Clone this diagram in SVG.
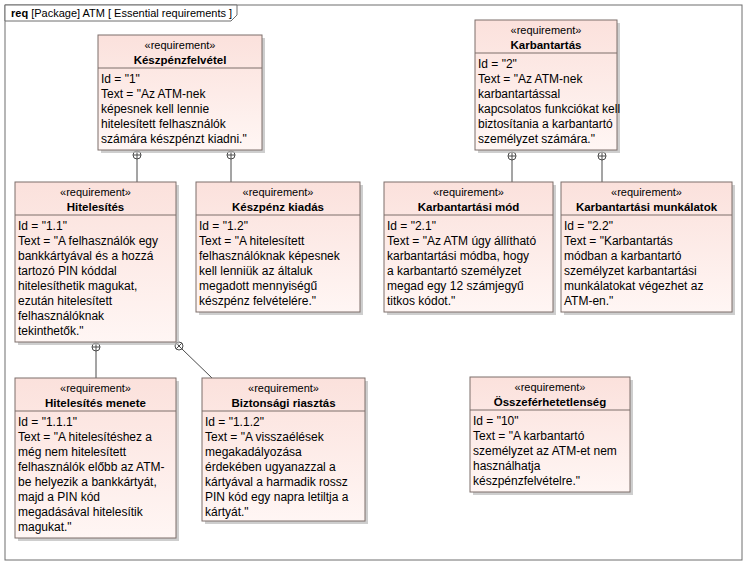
<svg xmlns="http://www.w3.org/2000/svg" width="747" height="565" viewBox="0 0 747 565">
<style>
.frame{fill:#ffffff;stroke:#6e6e6e;stroke-width:1}
.box{fill:url(#reqfill);stroke:#7d6e6b;stroke-width:1}
.shadow{fill:#b9b9b9;opacity:0.7}
.div{stroke:#7d6e6b;stroke-width:1}
.st{font-family:"Liberation Sans",Arial,sans-serif;font-size:11px;fill:#000;text-anchor:middle}
.nm{font-family:"Liberation Sans",Arial,sans-serif;font-size:11.5px;font-weight:bold;fill:#000;text-anchor:middle}
.tx{font-family:"Liberation Sans",Arial,sans-serif;font-size:12px;fill:#000}
.ttl{font-family:"Liberation Sans",Arial,sans-serif;font-size:11px;fill:#000}
.con{stroke:#4a4a4a;stroke-width:1;fill:none}
.cc{stroke:#4a4a4a;stroke-width:1;fill:#ffffff}
</style>
<defs>
<linearGradient id="reqfill" x1="0" y1="0" x2="0" y2="1">
<stop offset="0" stop-color="#fbe1dc"/>
<stop offset="1" stop-color="#fff6f4"/>
</linearGradient>
</defs>
<g id="frame">
<rect class="frame" x="5" y="5" width="737" height="555"/>
<path class="frame" d="M5,5 H237 V15 L231,21 H5 Z"/>
<text class="ttl" x="11" y="17"><tspan font-weight="bold">req</tspan> [Package] ATM [ Essential requirements ]</text>
</g>
<g id="connectors">
<line class="con" x1="137" y1="159" x2="137" y2="182"/>
<circle class="cc" cx="137" cy="155" r="4"/><path class="con" d="M133,155 H141 M137,151 V159"/>
<line class="con" x1="231" y1="159" x2="231" y2="182"/>
<circle class="cc" cx="231" cy="155" r="4"/><path class="con" d="M227,155 H235 M231,151 V159"/>
<line class="con" x1="512" y1="160" x2="512" y2="182"/>
<circle class="cc" cx="512" cy="156" r="4"/><path class="con" d="M508,156 H516 M512,152 V160"/>
<line class="con" x1="602" y1="160" x2="602" y2="182"/>
<circle class="cc" cx="602" cy="156" r="4"/><path class="con" d="M598,156 H606 M602,152 V160"/>
<line class="con" x1="96" y1="351" x2="96" y2="378"/>
<circle class="cc" cx="96" cy="347" r="4"/><path class="con" d="M92,347 H100 M96,343 V351"/>
<line class="con" x1="182" y1="349" x2="212" y2="378"/>
<circle class="cc" cx="179" cy="346" r="4"/><path class="con" d="M176.2,348.8 L181.8,343.2 M176.2,343.2 L181.8,348.8"/>
</g>
<g id="n1">
<rect class="shadow" x="101" y="38" width="164" height="115"/>
<rect class="box" x="98" y="35" width="164" height="115"/>
<line class="div" x1="98" y1="68" x2="262" y2="68"/>
<text class="st" x="180" y="49">«requirement»</text>
<text class="nm" x="180" y="64">Készpénzfelvétel</text>
<text class="tx" x="101" y="83">Id = "1"</text>
<text class="tx" x="101" y="98">Text = "Az ATM-nek</text>
<text class="tx" x="101" y="113">képesnek kell lennie</text>
<text class="tx" x="101" y="128">hitelesített felhasználók</text>
<text class="tx" x="101" y="143">számára készpénzt kiadni."</text>
</g>
<g id="n2">
<rect class="shadow" x="478" y="23" width="142" height="130"/>
<rect class="box" x="475" y="20" width="142" height="130"/>
<line class="div" x1="475" y1="53" x2="617" y2="53"/>
<text class="st" x="546" y="34">«requirement»</text>
<text class="nm" x="546" y="49">Karbantartás</text>
<text class="tx" x="478" y="68">Id = "2"</text>
<text class="tx" x="478" y="83">Text = "Az ATM-nek</text>
<text class="tx" x="478" y="98">karbantartással</text>
<text class="tx" x="478" y="113">kapcsolatos funkciókat kell</text>
<text class="tx" x="478" y="128">biztosítania a karbantartó</text>
<text class="tx" x="478" y="143">személyzet számára."</text>
</g>
<g id="n3">
<rect class="shadow" x="18" y="185" width="161" height="160"/>
<rect class="box" x="15" y="182" width="161" height="160"/>
<line class="div" x1="15" y1="215" x2="176" y2="215"/>
<text class="st" x="95.5" y="196">«requirement»</text>
<text class="nm" x="95.5" y="211">Hitelesítés</text>
<text class="tx" x="18" y="230">Id = "1.1"</text>
<text class="tx" x="18" y="245">Text = "A felhasználók egy</text>
<text class="tx" x="18" y="260">bankkártyával és a hozzá</text>
<text class="tx" x="18" y="275">tartozó PIN kóddal</text>
<text class="tx" x="18" y="290">hitelesíthetik magukat,</text>
<text class="tx" x="18" y="305">ezután hitelesített</text>
<text class="tx" x="18" y="320">felhasználóknak</text>
<text class="tx" x="18" y="335">tekinthetők."</text>
</g>
<g id="n4">
<rect class="shadow" x="199" y="185" width="164" height="130"/>
<rect class="box" x="196" y="182" width="164" height="130"/>
<line class="div" x1="196" y1="215" x2="360" y2="215"/>
<text class="st" x="278" y="196">«requirement»</text>
<text class="nm" x="278" y="211">Készpénz kiadás</text>
<text class="tx" x="199" y="230">Id = "1.2"</text>
<text class="tx" x="199" y="245">Text = "A hitelesített</text>
<text class="tx" x="199" y="260">felhasználóknak képesnek</text>
<text class="tx" x="199" y="275">kell lenniük az általuk</text>
<text class="tx" x="199" y="290">megadott mennyiségű</text>
<text class="tx" x="199" y="305">készpénz felvételére."</text>
</g>
<g id="n5">
<rect class="shadow" x="387" y="185" width="169" height="130"/>
<rect class="box" x="384" y="182" width="169" height="130"/>
<line class="div" x1="384" y1="215" x2="553" y2="215"/>
<text class="st" x="468.5" y="196">«requirement»</text>
<text class="nm" x="468.5" y="211">Karbantartási mód</text>
<text class="tx" x="387" y="230">Id = "2.1"</text>
<text class="tx" x="387" y="245">Text = "Az ATM úgy állítható</text>
<text class="tx" x="387" y="260">karbantartási módba, hogy</text>
<text class="tx" x="387" y="275">a karbantartó személyzet</text>
<text class="tx" x="387" y="290">megad egy 12 számjegyű</text>
<text class="tx" x="387" y="305">titkos kódot."</text>
</g>
<g id="n6">
<rect class="shadow" x="564" y="185" width="171" height="130"/>
<rect class="box" x="561" y="182" width="171" height="130"/>
<line class="div" x1="561" y1="215" x2="732" y2="215"/>
<text class="st" x="646.5" y="196">«requirement»</text>
<text class="nm" x="646.5" y="211">Karbantartási munkálatok</text>
<text class="tx" x="564" y="230">Id = "2.2"</text>
<text class="tx" x="564" y="245">Text = "Karbantartás</text>
<text class="tx" x="564" y="260">módban a karbantartó</text>
<text class="tx" x="564" y="275">személyzet karbantartási</text>
<text class="tx" x="564" y="290">munkálatokat végezhet az</text>
<text class="tx" x="564" y="305">ATM-en."</text>
</g>
<g id="n7">
<rect class="shadow" x="18" y="381" width="161" height="160"/>
<rect class="box" x="15" y="378" width="161" height="160"/>
<line class="div" x1="15" y1="411" x2="176" y2="411"/>
<text class="st" x="95.5" y="392">«requirement»</text>
<text class="nm" x="95.5" y="407">Hitelesítés menete</text>
<text class="tx" x="18" y="426">Id = "1.1.1"</text>
<text class="tx" x="18" y="441">Text = "A hitelesítéshez a</text>
<text class="tx" x="18" y="456">még nem hitelesített</text>
<text class="tx" x="18" y="471">felhasználók előbb az ATM-</text>
<text class="tx" x="18" y="486">be helyezik a bankkártyát,</text>
<text class="tx" x="18" y="501">majd a PIN kód</text>
<text class="tx" x="18" y="516">megadásával hitelesítik</text>
<text class="tx" x="18" y="531">magukat."</text>
</g>
<g id="n8">
<rect class="shadow" x="205" y="381" width="163" height="143"/>
<rect class="box" x="202" y="378" width="163" height="143"/>
<line class="div" x1="202" y1="411" x2="365" y2="411"/>
<text class="st" x="283.5" y="392">«requirement»</text>
<text class="nm" x="283.5" y="407">Biztonsági riasztás</text>
<text class="tx" x="205" y="426">Id = "1.1.2"</text>
<text class="tx" x="205" y="441">Text = "A visszaélések</text>
<text class="tx" x="205" y="456">megakadályozása</text>
<text class="tx" x="205" y="471">érdekében ugyanazzal a</text>
<text class="tx" x="205" y="486">kártyával a harmadik rossz</text>
<text class="tx" x="205" y="501">PIN kód egy napra letiltja a</text>
<text class="tx" x="205" y="516">kártyát."</text>
</g>
<g id="n9">
<rect class="shadow" x="473" y="380" width="160" height="115"/>
<rect class="box" x="470" y="377" width="160" height="115"/>
<line class="div" x1="470" y1="410" x2="630" y2="410"/>
<text class="st" x="550" y="391">«requirement»</text>
<text class="nm" x="550" y="406">Összeférhetetlenség</text>
<text class="tx" x="473" y="425">Id = "10"</text>
<text class="tx" x="473" y="440">Text = "A karbantartó</text>
<text class="tx" x="473" y="455">személyzet az ATM-et nem</text>
<text class="tx" x="473" y="470">használhatja</text>
<text class="tx" x="473" y="485">készpénzfelvételre."</text>
</g>
</svg>
